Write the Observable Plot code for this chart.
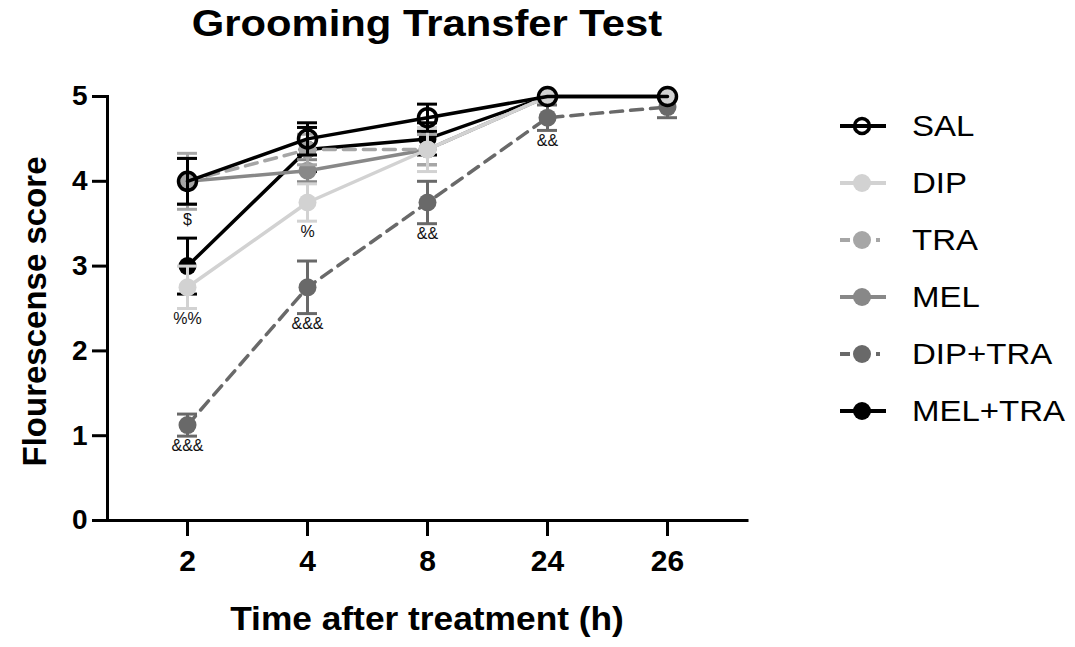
<!DOCTYPE html>
<html>
<head>
<meta charset="utf-8">
<script src="https://cdn.jsdelivr.net/npm/d3@7"></script>
<script src="https://cdn.jsdelivr.net/npm/@observablehq/plot@0.6"></script>
<style>
  html, body { margin: 0; padding: 0; background: #fff; }
  #wrap { position: relative; width: 1075px; height: 647px; font-family: "Liberation Sans", Arial, sans-serif; color: #000; overflow: hidden; }
  #wrap svg { font-family: "Liberation Sans", Arial, sans-serif; }
  .title { position: absolute; left: 0; width: 854px; top: 6px; text-align: center; font-size: 36px; line-height: 36px; font-weight: bold; transform: scaleX(1.16); transform-origin: 427px 50%; }
  .xtitle { position: absolute; left: 0; width: 854px; top: 602px; text-align: center; font-size: 33px; line-height: 33px; font-weight: bold; transform: scaleX(1.07); transform-origin: 427px 50%; }
  .ytitle { position: absolute; width: 500px; height: 33px; left: -216px; top: 295px; text-align: center; font-size: 33px; line-height: 33px; font-weight: bold; transform: rotate(-90deg); transform-origin: 50% 50%; white-space: nowrap; }
  .leg { position: absolute; left: 836px; height: 40px; display: flex; align-items: center; }
  .leg span { font-size: 30px; margin-left: 22px; display: inline-block; transform: scaleX(1.1); transform-origin: 0 50%; }
</style>
</head>
<body>
<div id="wrap"></div>
<script>
// ---- data ----
const times = ["2", "4", "8", "24", "26"];
const groups = ["SAL", "DIP", "TRA", "MEL", "DIP+TRA", "MEL+TRA"];
const SAL      = [4.0,   4.5,   4.75,  5.0,  5.0];
const SAL_SEM  = [0.27,  0.19,  0.16,  0,    0];
const DIP      = [2.75,  3.75,  4.375, 5.0,  5.0];
const DIP_SEM  = [0.25,  0.22,  0.26,  0,    0];
const TRA      = [4.0,   4.375, 4.375, 5.0,  5.0];
const TRA_SEM  = [0.33,  0.18,  0.18,  0,    0];
const MEL      = [4.0,   4.125, 4.375, 5.0,  5.0];
const MEL_SEM  = [0.27,  0.13,  0.18,  0,    0];
const DIPTRA   = [1.125, 2.75,  3.75,  4.75, 4.875];
const DIPTRA_SEM = [0.13, 0.31, 0.25,  0.15, 0.125];
const MELTRA   = [3.0,   4.375, 4.5,   5.0,  5.0];
const MELTRA_SEM = [0.33, 0.26, 0.19,  0,    0];
const yTicks = [0, 1, 2, 3, 4, 5];
// significance marks: [time, group placed under, label]
const annotations = [
  ["2", "TRA", "$"],
  ["2", "DIP", "%%"],
  ["2", "DIP+TRA", "&&&"],
  ["4", "DIP", "%"],
  ["4", "DIP+TRA", "&&&"],
  ["8", "DIP+TRA", "&&"],
  ["24", "DIP+TRA", "&&"]
];

const means = [SAL, DIP, TRA, MEL, DIPTRA, MELTRA];
const sems = [SAL_SEM, DIP_SEM, TRA_SEM, MEL_SEM, DIPTRA_SEM, MELTRA_SEM];
const colors = ["#000000", "#d2d2d2", "#a6a6a6", "#888888", "#696969", "#000000"];
const dashed = [false, false, true, false, true, false];
const openMarker = [true, false, false, false, false, false];

const rows = [];
groups.forEach((g, gi) => times.forEach((t, ti) => rows.push({group: g, gi, time: t, mean: means[gi][ti], sem: sems[gi][ti]})));

const marks = [];
// axes lines
marks.push(Plot.ruleY([0], {stroke: "#000", strokeWidth: 3, strokeLinecap: "square"}));
marks.push(Plot.frame({anchor: "left", stroke: "#000", strokeWidth: 3}));
marks.push(Plot.axisY({ticks: yTicks, tickSize: 15, tickPadding: 5, strokeWidth: 3, fontSize: 28, fontWeight: "bold", label: null, tickFormat: d3.format("d")}));
marks.push(Plot.axisX({tickSize: 16, tickPadding: 13, strokeWidth: 3, fontSize: 30, fontWeight: "bold", label: null}));

// draw series in reverse order so SAL ends on top
for (let gi = groups.length - 1; gi >= 0; gi--) {
  const d = rows.filter(r => r.gi === gi);
  const e = d.filter(r => r.sem > 0);
  const c = colors[gi];
  marks.push(Plot.ruleX(e, {x: "time", y1: r => r.mean - r.sem, y2: r => r.mean + r.sem, stroke: c, strokeWidth: 3}));
  marks.push(Plot.tickY(e, {x: "time", y: r => r.mean + r.sem, stroke: c, strokeWidth: 3}));
  marks.push(Plot.tickY(e, {x: "time", y: r => r.mean - r.sem, stroke: c, strokeWidth: 3}));
  marks.push(Plot.line(d, {x: "time", y: "mean", stroke: c, strokeWidth: 3.5, strokeDasharray: dashed[gi] ? "12,8" : null}));
  if (openMarker[gi]) {
    marks.push(Plot.dot(d, {x: "time", y: "mean", r: 9, fill: "none", stroke: c, strokeWidth: 3.5}));
  } else {
    marks.push(Plot.dot(d, {x: "time", y: "mean", r: 9, fill: c, stroke: "none"}));
  }
}

// annotations
const annRows = annotations.map(([t, g, label]) => {
  const gi = groups.indexOf(g), ti = times.indexOf(t);
  return {time: t, y: means[gi][ti] - sems[gi][ti], label};
});
marks.push(Plot.text(annRows, {x: "time", y: "y", text: "label", lineAnchor: "top", dy: 4, fontSize: 16, fill: "#111"}));

const chart = Plot.plot({
  width: 1075,
  height: 647,
  marginLeft: 107,
  marginRight: 328,
  marginTop: 96,
  marginBottom: 127,
  style: {background: "#fff", color: "#000", fontFamily: "Liberation Sans, Arial, sans-serif"},
  x: {type: "band", domain: times, paddingInner: 0.8333, paddingOuter: 0.5833, align: 0.5},
  y: {domain: [0, 5]},
  marks
});

const wrap = document.getElementById("wrap");
chart.style.position = "absolute";
chart.style.left = "0px";
chart.style.top = "0px";
wrap.appendChild(chart);

const title = document.createElement("div");
title.className = "title";
title.textContent = "Grooming Transfer Test";
wrap.appendChild(title);

const xt = document.createElement("div");
xt.className = "xtitle";
xt.textContent = "Time after treatment (h)";
wrap.appendChild(xt);

const yt = document.createElement("div");
yt.className = "ytitle";
yt.textContent = "Flourescense score";
wrap.appendChild(yt);

// legend
groups.forEach((g, gi) => {
  const row = document.createElement("div");
  row.className = "leg";
  row.style.top = (126 + gi * 57 - 20) + "px";
  const ns = "http://www.w3.org/2000/svg";
  const svg = document.createElementNS(ns, "svg");
  svg.setAttribute("width", 54);
  svg.setAttribute("height", 40);
  const line = document.createElementNS(ns, "line");
  line.setAttribute("x1", 4); line.setAttribute("x2", 50);
  line.setAttribute("y1", 20); line.setAttribute("y2", 20);
  line.setAttribute("stroke", colors[gi]);
  line.setAttribute("stroke-width", 4);
  if (dashed[gi]) line.setAttribute("stroke-dasharray", "10,8,10,8,4");
  svg.appendChild(line);
  const circ = document.createElementNS(ns, "circle");
  circ.setAttribute("cx", 26); circ.setAttribute("cy", 20);
  if (openMarker[gi]) {
    circ.setAttribute("r", 7.5);
    circ.setAttribute("fill", "none");
    circ.setAttribute("stroke", colors[gi]);
    circ.setAttribute("stroke-width", 3.5);
  } else {
    circ.setAttribute("r", 9);
    circ.setAttribute("fill", colors[gi]);
  }
  svg.appendChild(circ);
  row.appendChild(svg);
  const sp = document.createElement("span");
  sp.textContent = g;
  row.appendChild(sp);
  wrap.appendChild(row);
});
</script>
</body>
</html>
